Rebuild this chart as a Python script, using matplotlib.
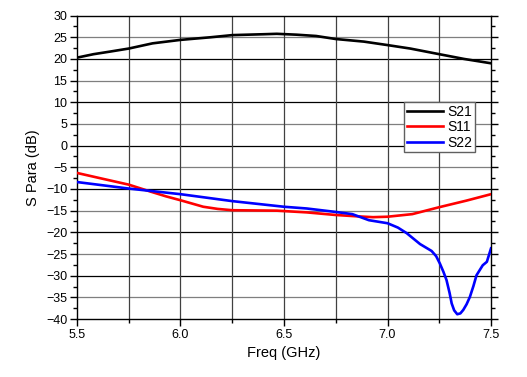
"""
S-parameters vs frequency (S21, S11, S22)
"""
import numpy as np
import matplotlib
matplotlib.use('Agg')
import matplotlib.pyplot as plt
from matplotlib.ticker import MultipleLocator

plt.rcParams['font.family'] = ['Liberation Sans', 'DejaVu Sans']

# ── Data ─────────────────────────────────────────────────────────────────────
s21_f = [5.50, 5.58, 5.66, 5.75, 5.865, 6.00, 6.145, 6.25, 6.40, 6.465,
         6.56, 6.655, 6.75, 6.886, 7.00, 7.11, 7.25, 7.37, 7.50]
s21_db = [20.3, 21.1, 21.7, 22.4, 23.6, 24.4, 25.0, 25.5, 25.7, 25.8,
          25.6, 25.3, 24.6, 24.0, 23.2, 22.4, 21.1, 20.0, 19.0]

s11_f = [5.50, 5.62, 5.75, 5.855, 5.93, 6.00, 6.11, 6.18, 6.25, 6.465,
         6.61, 6.75, 6.85, 6.93, 7.00, 7.12, 7.25, 7.38, 7.50]
s11_db = [-6.3, -7.6, -9.0, -10.6, -11.7, -12.6, -14.1, -14.6, -14.9, -15.0,
          -15.4, -16.0, -16.3, -16.5, -16.4, -15.8, -14.2, -12.7, -11.2]

s22_f = [5.50, 5.75, 6.00, 6.25, 6.50, 6.61, 6.75, 6.83, 6.91, 7.00,
         7.05, 7.093, 7.157, 7.213, 7.235, 7.253, 7.27, 7.285, 7.30, 7.31,
         7.322, 7.337, 7.352, 7.366, 7.382, 7.398, 7.415, 7.43, 7.46, 7.48,
         7.50]
s22_db = [-8.4, -9.9, -11.2, -12.8, -14.1, -14.5, -15.3, -15.8, -17.2, -17.9,
          -18.9, -20.2, -22.7, -24.3, -25.5, -27.2, -29.1, -31.0, -34.0, -36.4,
          -38.0, -38.9, -38.7, -37.9, -36.6, -34.9, -32.4, -29.9, -27.6, -26.8,
          -23.7]

series = [
    ('S21', s21_f, s21_db, 'black'),
    ('S11', s11_f, s11_db, '#ff0000'),
    ('S22', s22_f, s22_db, '#0000ff'),
]

# ── Figure ───────────────────────────────────────────────────────────────────
fig = plt.figure(figsize=(5.27, 3.77), dpi=100)
ax = fig.add_axes([0.1461, 0.1538, 0.7856, 0.8048])

# grid: tens black, odd fives gray
for v in range(-35, 30, 5):
    c = 'black' if v % 10 == 0 else '#7f7f7f'
    ax.axhline(v, color=c, lw=0.9, zorder=1)
for f in [5.75, 6.0, 6.25, 6.5, 6.75, 7.0, 7.25]:
    ax.axvline(f, color='#404040', lw=0.9, zorder=1)

for name, f, db, col in series:
    ax.plot(f, db, color=col, lw=1.9, label=name, zorder=3,
            solid_joinstyle='round')

ax.set_xlim(5.5, 7.5)
ax.set_ylim(-40, 30)
ax.xaxis.set_major_locator(MultipleLocator(0.5))
ax.xaxis.set_minor_locator(MultipleLocator(0.25))
ax.yaxis.set_major_locator(MultipleLocator(5))
ax.yaxis.set_minor_locator(MultipleLocator(2.5))
ax.xaxis.set_major_formatter(matplotlib.ticker.FormatStrFormatter('%.1f'))

ax.tick_params(axis='both', which='major', direction='out', length=5,
               width=1, labelsize=9, pad=2)
ax.tick_params(axis='both', which='minor', direction='out', length=3, width=1)
ax.tick_params(axis='y', which='both', right=True)
for sp in ax.spines.values():
    sp.set_color('black')
    sp.set_linewidth(1.0)

ax.set_xlabel('Freq (GHz)', fontsize=10.5, labelpad=4)
ax.set_ylabel('S Para (dB)', fontsize=10.5, labelpad=4)

leg = ax.legend(loc='upper left', bbox_to_anchor=(0.79, 0.715), fontsize=10,
                frameon=True, fancybox=False, handlelength=2.6,
                borderpad=0.2, labelspacing=0.1, handletextpad=0.3,
                borderaxespad=0)
leg.get_frame().set_edgecolor('#606060')
leg.get_frame().set_linewidth(1.0)
leg.get_frame().set_alpha(1)

plt.savefig('out.png', dpi=100)
